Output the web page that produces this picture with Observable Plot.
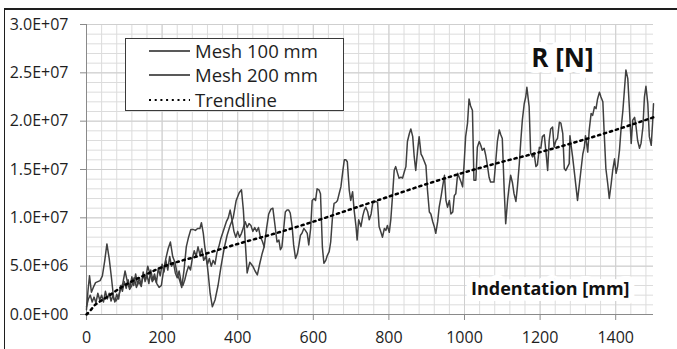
<!DOCTYPE html>
<html><head><meta charset="utf-8">
<script src="https://cdn.jsdelivr.net/npm/d3@7"></script>
<script src="https://cdn.jsdelivr.net/npm/@observablehq/plot@0.6"></script>
<style>
body{margin:0;background:#fff;font-family:"Open Sans",sans-serif;}
#wrap{position:relative;width:677px;height:349px;overflow:hidden;background:#fff;}
#chart{position:absolute;left:0;top:0;}
#frame{position:absolute;left:4px;top:8px;width:720px;height:420px;border-left:1.5px solid #1e1e1e;border-top:2px solid #1e1e1e;pointer-events:none;}
#legend{position:absolute;left:125px;top:38px;width:219px;height:73px;border:1px solid #3a3a3a;background:#fff;box-sizing:border-box;}
.row{position:absolute;left:0;height:24px;display:flex;align-items:center;}
.row svg{margin-left:23px;margin-right:5px;}
.row span{font-size:18.5px;color:#1e1e1e;line-height:24px;white-space:nowrap;}
</style></head>
<body>
<div id="wrap"><div id="chart"></div><div id="frame"></div><div id="legend"></div></div>
<script>
// ---- data (forces in MN, i.e. units of 1.0E+06 N) ----
const seriesNames = ["Mesh 100 mm", "Mesh 200 mm", "Trendline"];

const mesh100X = [0,5,10,15,20,25,30,35,40,45,50,55,60,65,70,75,80,85,90,95,100,105,110,115,120,125,130,135,140,145,150,155,160,165,170,175,180,185,190,195,200,205,210,215,220,225,230,235,240,245,250,255,260,265,270,275,280,285,290,295,300,305,310,315,320,325,330,335,340,345,350,355,360,365,370,375,380,385,390,395,400,405,410,415,420,425,430,435,440,445,450,455,460,465,470];
const mesh100Y = [0.8,1.6,2.0,1.3,1.8,1.2,2.2,1.5,2.0,1.3,2.4,1.6,2.2,1.4,2.0,1.3,2.1,1.6,3.0,2.4,3.4,2.7,3.6,2.8,3.9,3.0,4.2,3.1,3.8,2.9,4.4,3.4,4.1,3.2,4.6,3.6,4.2,3.3,4.8,4.0,5.2,4.4,5.6,4.6,6.0,5.0,5.4,4.3,3.8,4.5,3.4,3.0,3.6,4.4,5.0,4.6,5.8,6.6,6.0,7.0,6.2,6.8,5.6,6.0,5.2,5.8,5.0,5.6,5.2,6.4,7.0,7.8,8.4,9.0,9.6,10.0,10.8,9.8,8.6,8.0,8.6,8.0,8.4,9.0,9.6,9.0,9.4,9.2,8.6,9.0,8.6,9.0,8.0,7.6,7.0];

const mesh200X = [0,4,8,13,18,24,30,36,42,48,54,60,66,72,78,84,90,96,102,108,114,120,126,132,138,144,150,156,162,168,174,180,186,192,198,204,210,216,222,228,234,240,246,252,258,264,270,276,282,288,294,300,304,309,313,317,322,327,333,340,348,356,364,372,380,388,396,404,410,415,420,425,432,440,446,452,458,464,470,476,482,488,493,499,504,509,513,517,522,526,530,535,539,544,548,553,558,562,566,570,575,579,584,588,593,597,602,606,610,615,619,624,628,633,637,642,646,651,655,660,664,669,673,678,682,686,690,695,699,704,708,713,716,720,726,731,735,739,744,748,753,757,765,770,774,779,783,788,792,796,801,805,810,814,818,823,827,832,836,841,845,849,854,858,863,867,871,876,880,885,889,894,898,902,907,911,916,920,924,929,933,938,942,947,951,955,960,964,969,973,977,982,986,991,995,999,1003,1008,1012,1016,1021,1025,1030,1034,1039,1043,1047,1052,1056,1061,1065,1069,1074,1078,1083,1087,1092,1096,1100,1105,1109,1114,1118,1122,1127,1131,1136,1140,1145,1149,1153,1158,1162,1165,1171,1175,1180,1184,1189,1193,1198,1202,1206,1211,1215,1220,1224,1228,1233,1237,1242,1246,1251,1255,1260,1264,1268,1273,1277,1279,1282,1286,1291,1295,1299,1304,1308,1313,1317,1320,1323,1326,1330,1335,1339,1344,1348,1352,1357,1361,1366,1370,1374,1379,1383,1388,1392,1397,1401,1405,1410,1414,1419,1423,1427,1432,1436,1441,1445,1450,1454,1458,1463,1467,1472,1476,1480,1485,1489,1494,1498,1500];
const mesh200Y = [0.5,2.5,4.0,2.3,2.8,3.3,3.4,3.5,4.0,5.5,7.3,5.8,3.8,1.6,1.4,1.8,2.6,3.2,4.5,3.4,2.6,3.0,3.8,2.8,3.4,3.0,4.0,3.6,5.0,4.2,3.4,3.8,3.2,2.8,3.0,4.6,5.8,6.8,7.5,6.0,5.4,4.2,3.6,2.8,4.6,7.0,8.0,8.8,8.8,8.7,8.9,8.9,9.5,8.4,7.0,6.0,4.2,2.2,0.8,1.5,3.0,5.0,6.8,8.2,9.2,10.0,11.8,12.6,12.9,10.8,7.5,4.3,5.4,5.0,4.5,4.1,5.2,6.2,7.0,8.8,10.4,10.9,11.0,9.1,7.5,7.7,6.7,7.0,9.0,10.6,10.8,10.8,10.5,9.1,7.2,5.8,6.3,7.2,8.2,8.4,8.9,8.7,8.4,7.2,8.9,11.8,12.0,11.8,13.0,12.9,12.5,7.0,5.3,5.6,6.1,6.5,7.5,10.2,11.5,11.6,11.8,12.6,13.2,14.8,16.0,16.0,15.8,12.9,11.8,12.7,10.8,9.1,7.7,9.8,9.1,10.2,10.8,11.1,10.6,9.8,10.4,11.5,11.7,11.6,9.1,8.5,8.0,8.9,8.7,9.2,8.5,9.8,12.5,14.9,15.3,14.6,14.1,14.2,14.1,14.8,15.3,17.9,18.7,19.2,18.4,16.3,14.9,17.0,18.4,16.6,16.3,15.8,15.4,12.9,10.6,10.4,9.6,9.1,8.4,9.6,11.1,12.2,13.2,14.4,11.8,11.1,11.8,10.4,10.6,12.3,12.5,14.6,14.2,13.7,13.2,15.6,18.4,19.8,22.3,21.6,21.1,13.9,13.9,17.3,17.9,17.5,17.0,17.2,16.5,15.3,14.2,13.7,13.7,13.7,16.0,17.9,19.1,18.6,18.2,12.9,9.4,11.8,13.2,14.4,13.6,12.5,11.7,13.2,15.6,18.0,20.1,21.8,22.5,23.5,21.5,16.7,16.3,16.7,15.3,15.5,17.3,17.2,18.4,18.6,17.0,14.9,18.0,19.2,19.4,17.3,18.0,18.2,19.9,19.8,18.7,15.1,14.9,15.3,15.6,18.5,17.5,16.3,14.6,13.2,11.8,13.5,14.9,16.6,17.3,18.5,17.7,16.8,19.1,20.8,20.6,21.5,21.3,22.3,23.0,22.5,22.0,18.4,15.1,13.5,12.0,13.5,14.9,16.1,14.6,15.3,17.0,19.1,21.1,23.2,25.3,24.4,21.5,17.7,20.1,20.4,19.4,18.0,17.2,17.7,19.4,22.5,23.6,21.8,18.4,17.5,20.1,21.8];

const trendX = [0,10,20,30,50,100,150,200,300,400,500,600,700,800,900,1000,1100,1200,1300,1400,1500];
const trendY = [0,0.4,0.9,1.2,1.7,3.0,4.0,4.9,6.1,7.3,8.4,9.6,10.9,12.2,13.5,14.7,15.8,16.8,17.9,19.1,20.4];

const xTicks = [0,200,400,600,800,1000,1200,1400];
const xTickLabels = ["0","200","400","600","800","1000","1200","1400"];
const yTicks = [0,5,10,15,20,25,30];
const yTickLabels = ["0.0E+00","5.0E+06","1.0E+07","1.5E+07","2.0E+07","2.5E+07","3.0E+07"];
const yTitle = "R [N]";
const xTitle = "Indentation [mm]";

// ---- build tables ----
const toRows = (xs, ys) => xs.map((x, i) => ({x, y: ys[i]}));
const s100 = toRows(mesh100X, mesh100Y);
const s200 = toRows(mesh200X, mesh200Y);
const trend = toRows(trendX, trendY);

const lineColor = "#404040";
const chart = Plot.plot({
  width: 677, height: 349,
  marginLeft: 86, marginRight: 24, marginTop: 24, marginBottom: 35,
  style: {fontFamily: "'Open Sans', sans-serif", background: "transparent"},
  x: {domain: [0, 1500]},
  y: {domain: [0, 30]},
  marks: [
    Plot.gridX(d3.range(0, 1501, 40), {stroke: "#dcdcdc", strokeOpacity: 1, strokeWidth: 1}),
    Plot.gridY(d3.range(0, 30.5, 1), {stroke: "#dcdcdc", strokeOpacity: 1, strokeWidth: 1}),
    Plot.gridX(xTicks, {stroke: "#cfcfcf", strokeOpacity: 1, strokeWidth: 1}),
    Plot.gridY(yTicks, {stroke: "#cfcfcf", strokeOpacity: 1, strokeWidth: 1}),
    Plot.ruleX([0], {stroke: "#8a8a8a", strokeWidth: 1}),
    Plot.ruleY([0], {stroke: "#8a8a8a", strokeWidth: 1}),
    Plot.axisY({ticks: yTicks, tickFormat: (d, i) => yTickLabels[i], tickSize: 6, tickPadding: 12,
      fontSize: 16, stroke: "#8a8a8a", fill: "#1e1e1e", label: null}),
    Plot.axisX({ticks: xTicks, tickFormat: (d, i) => xTickLabels[i], tickSize: 6, tickPadding: 11,
      fontSize: 16, stroke: "#8a8a8a", fill: "#1e1e1e", label: null}),
    Plot.text([xTitle], {x: 1227, y: 2.6, text: d => d, fontSize: 18, fontWeight: "bold",
      fill: "#111", stroke: "white", strokeWidth: 12, strokeLinejoin: "round"}),
    Plot.line(s100, {x: "x", y: "y", stroke: lineColor, strokeWidth: 1.5}),
    Plot.line(s200, {x: "x", y: "y", stroke: lineColor, strokeWidth: 1.5}),
    Plot.line(trend, {x: "x", y: "y", stroke: "#000", strokeWidth: 2.5, strokeDasharray: "2.2,4", curve: "monotone-x"}),
    Plot.text([yTitle], {x: 1259, y: 26.5, text: d => d, fontSize: 26, fontWeight: "bold",
      fill: "#111", stroke: "white", strokeWidth: 12, strokeLinejoin: "round"})
  ]
});
document.getElementById("chart").appendChild(chart);

// ---- legend ----
const legend = document.getElementById("legend");
const rowsTop = [0, 24, 48.5];
seriesNames.forEach((name, i) => {
  const row = document.createElement("div");
  row.className = "row";
  row.style.top = rowsTop[i] + "px";
  const dashed = i === 2;
  row.innerHTML = `<svg width="41" height="6"><line x1="0" x2="41" y1="3" y2="3" stroke="${dashed ? "#000" : "#222"}" stroke-width="${dashed ? 2.2 : 1.3}" ${dashed ? 'stroke-dasharray="2,3.7"' : ""}/></svg><span>${name}</span>`;
  legend.appendChild(row);
});
</script>
</body></html>
